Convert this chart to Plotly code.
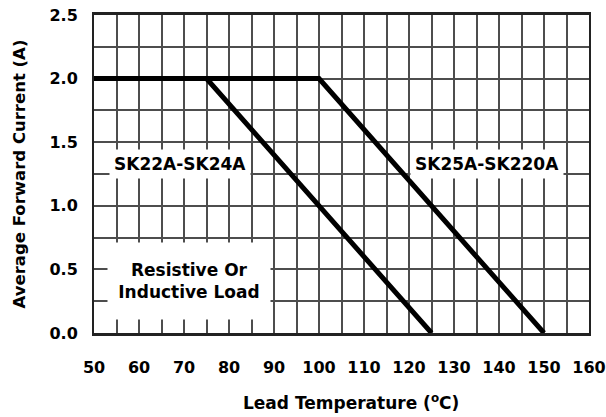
import plotly.graph_objects as go

# Data
temp_sk22_24 = [50, 75, 125]
current_sk22_24 = [2.0, 2.0, 0.0]
temp_sk25_220 = [50, 100, 150]
current_sk25_220 = [2.0, 2.0, 0.0]

x_tick_vals = [50, 60, 70, 80, 90, 100, 110, 120, 130, 140, 150, 160]
x_tick_text = ["50", "60", "70", "80", "90", "100", "110", "120", "130", "140", "150", "160"]
y_tick_vals = [0.0, 0.5, 1.0, 1.5, 2.0, 2.5]
y_tick_text = ["0.0", "0.5", "1.0", "1.5", "2.0", "2.5"]

FONT = "DejaVu Sans"
GRID = "#4d4d4d"

fig = go.Figure()
fig.add_trace(go.Scatter(x=temp_sk22_24, y=current_sk22_24, mode="lines",
                         line=dict(color="black", width=5), showlegend=False, hoverinfo="skip"))
fig.add_trace(go.Scatter(x=temp_sk25_220, y=current_sk25_220, mode="lines",
                         line=dict(color="black", width=5), showlegend=False, hoverinfo="skip"))

fig.update_layout(
    width=606, height=417,
    margin=dict(l=94, r=17, t=15, b=84, autoexpand=False),
    paper_bgcolor="white", plot_bgcolor="white",
    font=dict(family=FONT, color="black"),
    xaxis=dict(
        range=[50, 160], tickmode="array", tickvals=x_tick_vals, ticktext=x_tick_text,
        tickfont=dict(family=FONT, size=16, color="black", weight="bold"),
        ticklabeloverflow="allow",
        showgrid=True, gridcolor=GRID, gridwidth=1.5,
        minor=dict(dtick=5, showgrid=True, gridcolor=GRID, gridwidth=1.5),
        showline=True, linecolor="#222", linewidth=3, mirror=True,
        ticks="outside", ticklen=18, tickcolor="rgba(0,0,0,0)",
        zeroline=False, automargin=False,
    ),
    yaxis=dict(
        range=[0, 2.5], tickmode="array", tickvals=y_tick_vals, ticktext=y_tick_text,
        tickfont=dict(family=FONT, size=16, color="black", weight="bold"),
        ticklabeloverflow="allow",
        showgrid=True, gridcolor=GRID, gridwidth=1.5,
        minor=dict(dtick=0.25, showgrid=True, gridcolor=GRID, gridwidth=1.5),
        showline=True, linecolor="#222", linewidth=2, mirror=True,
        ticks="outside", ticklen=11, tickcolor="rgba(0,0,0,0)",
        zeroline=False, automargin=False,
        title=dict(text="Average Forward Current (A)",
                   font=dict(family=FONT, size=16.5, color="black", weight="bold"), standoff=20),
    ),
    annotations=[
        dict(x=69, y=1.33, text="SK22A-SK24A", showarrow=False, bgcolor="white", borderpad=4,
             font=dict(family=FONT, size=17, color="black", weight="bold")),
        dict(x=137.3, y=1.33, text="SK25A-SK220A", showarrow=False, bgcolor="white", borderpad=4,
             font=dict(family=FONT, size=17, color="black", weight="bold")),
        dict(x=71.1, y=0.405, text="Resistive Or<br>Inductive Load", showarrow=False,
             bgcolor="white", width=158, height=72, borderpad=2,
             font=dict(family=FONT, size=17, color="black", weight="bold")),
        dict(xref="paper", yref="paper", x=0.519, y=-0.217, xanchor="center", yanchor="middle",
             text="Lead Temperature (<sup>o</sup>C)", showarrow=False,
             font=dict(family=FONT, size=17, color="black", weight="bold")),
    ],
)

fig.write_html("out.html", config={"displayModeBar": False},
               post_script="document.body.style.margin='0';document.body.style.overflow='hidden';")
